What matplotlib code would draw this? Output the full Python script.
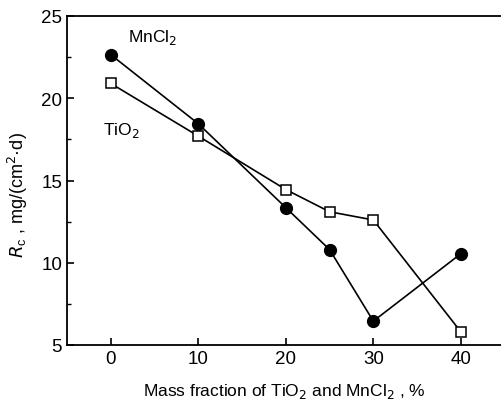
import matplotlib.pyplot as plt
from matplotlib.ticker import MultipleLocator

plt.rcParams['font.family'] = ['Liberation Sans', 'DejaVu Sans']

# data
x_mn = [0, 10, 20, 25, 30, 40]
y_mn = [22.65, 18.45, 13.35, 10.8, 6.45, 10.55]
x_ti = [0, 10, 20, 25, 30, 40]
y_ti = [20.9, 17.7, 14.45, 13.1, 12.6, 5.8]
x_ticks = [0, 10, 20, 30, 40]
y_ticks = [5, 10, 15, 20, 25]

fig = plt.figure(figsize=(5.02, 4.10), dpi=100)
ax = fig.add_axes([67/502, 1-346/410, 1-67/502, (346-17)/410])

ax.plot(x_mn, y_mn, color='black', lw=1.2, marker='o', markersize=8.5,
        markerfacecolor='black', markeredgecolor='black')
ax.plot(x_ti, y_ti, color='black', lw=1.2, marker='s', markersize=7,
        markerfacecolor='white', markeredgecolor='black', markeredgewidth=1.1)

ax.set_xlim(-5, 44.7)
ax.set_ylim(5, 25)
ax.set_xticks(x_ticks)
ax.set_yticks(y_ticks)
ax.yaxis.set_minor_locator(MultipleLocator(2.5))
ax.tick_params(direction='in', labelsize=13.5, length=5, width=1.2)
ax.tick_params(which='minor', direction='in', length=3, width=1)
ax.spines['right'].set_visible(False)
for s in ['left', 'bottom', 'top']:
    ax.spines[s].set_linewidth(1.3)

ax.text(2.0, 23.5, 'MnCl$_2$', fontsize=12.5)
ax.text(-0.9, 17.8, 'TiO$_2$', fontsize=12.5)

ax.set_xlabel('Mass fraction of TiO$_2$ and MnCl$_2$ , %', fontsize=12.5, labelpad=10)
ax.set_ylabel('$R_\\mathregular{c}$ , mg/(cm$^2$·d)', fontsize=13, labelpad=5)
ax.yaxis.set_label_coords(-0.085, 0.46)

plt.savefig('out.png', dpi=100)
